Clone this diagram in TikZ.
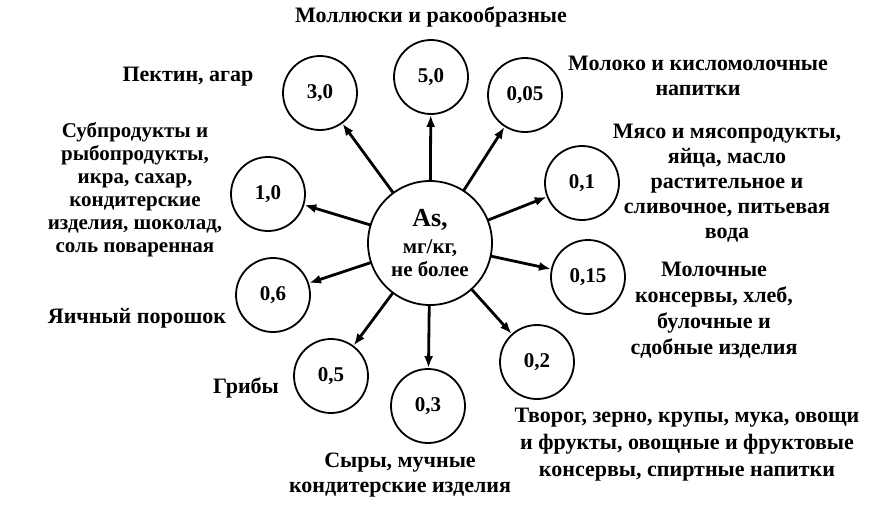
\documentclass[tikz,border=0pt]{standalone}
\usepackage{fontspec}
\setmainfont{Liberation Serif}
\usetikzlibrary{arrows.meta}
\tikzset{
every picture/.style={line cap=round,line join=round},
value node/.style={
  draw,
  circle,
  line width=1.8pt,
  minimum size=74pt,
  inner sep=0pt,
  font=\fontsize{21}{23}\selectfont\bfseries
},
center node/.style={value node, minimum size=124pt, align=center},
group label/.style={align=center, font=\fontsize{22}{25}\selectfont\bfseries},
as arrow/.style={
  draw,
  line width=2.8pt,
  -{Latex[length=12pt,width=9pt]}
}
}
\begin{document}
\begin{tikzpicture}[x=1pt,y=-1pt]
\useasboundingbox (0,0) rectangle (888,515);
% central node
\node[center node] (as) at (430,243) {{\fontsize{26}{28}\selectfont As,}\\[4pt]мг/кг,\\не более};
% values
\node[value node] (v50) at (431,77) {5,0};
\node[value node] (v005) at (525,95) {0,05};
\node[value node] (v01) at (582,183) {0,1};
\node[value node] (v015) at (588,277) {0,15};
\node[value node] (v02) at (537,362) {0,2};
\node[value node] (v03) at (428,406) {0,3};
\node[value node] (v05) at (331,376) {0,5};
\node[value node] (v06) at (273,295) {0,6};
\node[value node] (v10) at (268,194) {1,0};
\node[value node] (v30) at (320,93) {3,0};
% arrows
\foreach \v in {v50,v005,v01,v015,v02,v03,v05,v06,v10,v30}
  \draw[as arrow] (as) -- (\v);
% labels
\node[group label] (mollusc) at (431,17) {Моллюски и ракообразные};
\node[group label] (milk) at (698,76) {Молоко и кисломолочные\\напитки};
\node[group label] (meat) at (727,183) {Мясо и мясопродукты,\\яйца, масло\\растительное и\\сливочное, питьевая\\вода};
\node[group label, font=\fontsize{22}{26}\selectfont\bfseries] (canned) at (714,310) {Молочные\\консервы, хлеб,\\булочные и\\сдобные изделия};
\node[group label, font=\fontsize{22}{27}\selectfont\bfseries] (grain) at (687,445) {Творог, зерно, крупы, мука, овощи\\и фрукты, овощные и фруктовые\\консервы, спиртные напитки};
\node[group label] (cheese) at (400,475) {Сыры, мучные\\кондитерские изделия};
\node[group label] (mushroom) at (246,388) {Грибы};
\node[group label] (eggs) at (137,318) {Яичный порошок};
\node[group label, font=\fontsize{21}{23}\selectfont\bfseries] (offal) at (135,190) {Субпродукты и\\рыбопродукты,\\икра, сахар,\\кондитерские\\изделия, шоколад,\\соль поваренная};
\node[group label] (pectin) at (188,77) {Пектин, агар};
\end{tikzpicture}
\end{document}
